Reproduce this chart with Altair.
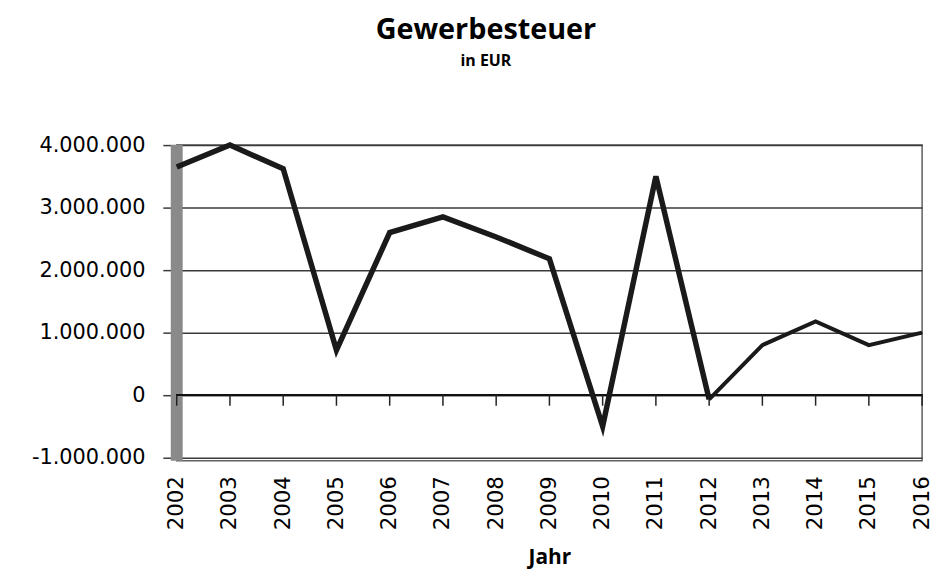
import altair as alt
import pandas as pd

years = list(range(2002, 2017))
values = [3650000, 4000000, 3620000, 720000, 2600000, 2850000, 2530000, 2180000,
          -500000, 3500000, -70000, 800000, 1180000, 800000, 1000000]
y_ticks = [-1000000, 0, 1000000, 2000000, 3000000, 4000000]
title_text = "Gewerbesteuer"
subtitle_text = "in EUR"
x_title = "Jahr"

df = pd.DataFrame({"Jahr": years, "Wert": values})

xscale = alt.Scale(domain=[2002, 2016], nice=False, zero=False)
yscale = alt.Scale(domain=[-1050000, 4000000], nice=False, zero=False)

xaxis = alt.Axis(values=years, format="d", labelAngle=-90, ticks=False, domain=False,
                 grid=False, labelFont="DejaVu Sans", labelFontSize=21.5, labelColor="black",
                 labelPadding=15, title=x_title, titleFont="Open Sans", titleFontSize=21,
                 titleFontWeight="bold", titlePadding=17, titleColor="black")
yaxis = alt.Axis(values=y_ticks, domain=False, grid=True, gridColor="#3a3a3a", gridWidth=1.5,
                 tickColor="#3a3a3a", tickSize=14, tickWidth=1.5,
                 labelFont="DejaVu Sans", labelFontSize=21, labelColor="black", labelPadding=18,
                 labelExpr="replace(replace(format(datum.value, ',d'), regexp(',', 'g'), '.'), '\u2212', '-')",
                 title="")

base = alt.Chart(df)

bar = base.transform_filter("datum.Jahr == 2002").mark_rule(
    color="#8a8a8a", strokeWidth=12).encode(
    x=alt.X("Jahr:Q", scale=xscale, axis=xaxis),
    y=alt.Y(datum=4000000, type="quantitative", scale=yscale, axis=yaxis),
    y2=alt.datum(-1050000),
)

zero = base.mark_rule(color="#111111", strokeWidth=2).encode(
    y=alt.Y(datum=0, type="quantitative"))

ticks = base.mark_rule(color="#222222", strokeWidth=1.5).encode(
    x="Jahr:Q", y=alt.Y(datum=0, type="quantitative"), y2=alt.datum(-170000))

thick = base.transform_filter("datum.Jahr <= 2012").mark_line(
    color="#1a1a1a", strokeWidth=5.5).encode(x="Jahr:Q", y="Wert:Q")
thin = base.transform_filter("datum.Jahr >= 2012").mark_line(
    color="#1a1a1a", strokeWidth=4).encode(x="Jahr:Q", y="Wert:Q")

chart = alt.layer(bar, zero, ticks, thick, thin).properties(
    width=751, height=318,
    autosize=alt.AutoSizeParams(type="none"),
    padding={"left": 170, "top": 136, "right": 13, "bottom": 107},
    title=alt.TitleParams(text=title_text, subtitle=subtitle_text, anchor="middle",
                          font="Open Sans", fontSize=29, fontWeight="bold", color="black",
                          subtitleFont="Open Sans", subtitleFontSize=16,
                          subtitleFontWeight="bold", subtitleColor="black",
                          subtitlePadding=8, offset=66, dx=-64),
).configure_view(stroke="#606060", strokeWidth=1.5)

chart.save("out.html", embed_options={"renderer": "svg", "actions": False})
